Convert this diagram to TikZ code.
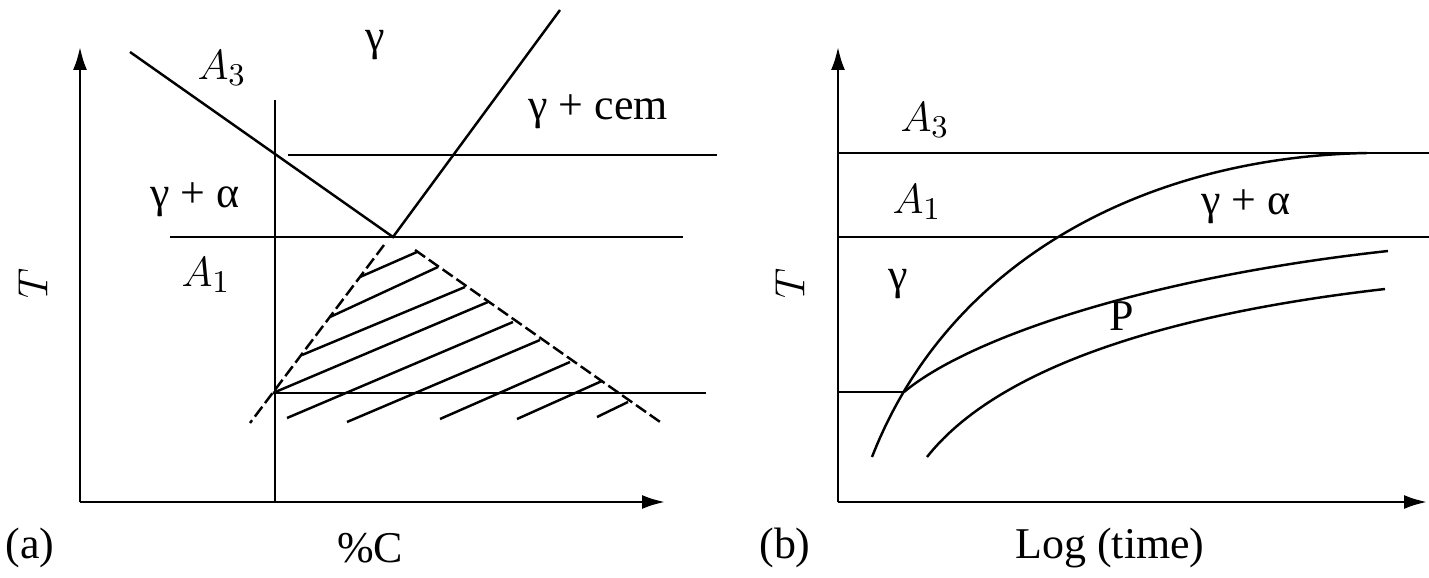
\documentclass[tikz,border=0pt]{standalone}
\usepackage{fontspec}
\setmainfont{Liberation Serif}
\usetikzlibrary{arrows.meta}

\begin{document}
\begin{tikzpicture}[line width=0.7pt,font=\fontsize{12.5}{14}\selectfont]
  % Iron-carbon diagram (a) and transformation curves (b)
  \tikzset{axis/.style={-{Latex[length=2.3mm,width=1.4mm]}},
    bound/.style={dash pattern=on 3.5pt off 1.3pt}}
  \useasboundingbox (0,0) rectangle (14.29,5.77);

  % (a) axes and composition line
  \coordinate (oa) at (0.80,0.75);
  \draw[axis] (oa) -- (0.80,5.30);
  \draw[axis] (oa) -- (6.65,0.75);
  \draw (2.75,0.75) -- (2.75,4.77);
  % A3, Acm and A1 lines
  \coordinate (eut) at (3.93,3.40);
  \draw (1.30,5.25) -- (eut) -- (5.60,5.67);
  \draw (2.88,4.22) -- (7.17,4.22);
  \draw (1.70,3.40) -- (6.83,3.40);
  \draw (2.73,1.84) -- (7.06,1.84);
  % hatched region
  \draw[bound] (3.84,3.32) -- (2.50,1.54);
  \draw[bound] (4.15,3.27) -- (6.63,1.53);
  \foreach \p/\q in {{3.60,3.00}/{4.17,3.25}, {3.30,2.60}/{4.38,3.10},
      {3.02,2.22}/{4.65,2.90}, {2.73,1.84}/{4.88,2.75}, {2.87,1.59}/{5.13,2.55},
      {3.47,1.55}/{5.40,2.37}, {4.40,1.58}/{5.70,2.15}, {5.17,1.58}/{6.02,1.96},
      {5.97,1.60}/{6.28,1.75}}
    \draw (\p) -- (\q);
  % labels
  \node (a3) at (2.22,5.09) {$A_3$};
  \node (ga) at (3.75,5.32) {γ};
  \node (gcem) at (5.98,4.65) {γ + cem};
  \node (gal) at (1.95,3.77) {γ + α};
  \node (a1) at (2.06,3.02) {$A_1$};
  \node[rotate=90] (ta) at (0.33,2.93) {$T$};
  \node (la) at (0.30,0.29) {(a)};
  \node (xa) at (3.70,0.29) {\%C};

  % (b) axes and critical temperatures
  \coordinate (ob) at (8.38,0.75);
  \draw[axis] (ob) -- (8.38,5.30);
  \draw[axis] (ob) -- (14.27,0.75);
  \draw (8.38,4.24) -- (14.29,4.24);
  \draw (8.38,3.40) -- (14.29,3.40);
  \coordinate (jn) at (9.04,1.85);
  \draw (8.38,1.85) -- (jn);
  % start and finish curves
  \draw (8.72,1.20) .. controls (9.50,3.20) and (11.50,4.20) .. (13.67,4.24);
  \draw (jn) .. controls (9.70,2.40) and (11.50,3.00) .. (13.88,3.26);
  \draw (9.27,1.20) .. controls (9.90,2.00) and (11.40,2.60) .. (13.85,2.88);
  % labels
  \node (b3) at (9.25,4.57) {$A_3$};
  \node (b1) at (9.17,3.75) {$A_1$};
  \node (gb) at (8.98,2.93) {γ};
  \node (gbl) at (12.46,3.70) {γ + α};
  \node (pb) at (11.22,2.61) {P};
  \node[rotate=90] (tb) at (7.90,2.93) {$T$};
  \node (lb) at (7.85,0.29) {(b)};
  \node (xb) at (11.10,0.29) {Log (time)};
\end{tikzpicture}
\end{document}
